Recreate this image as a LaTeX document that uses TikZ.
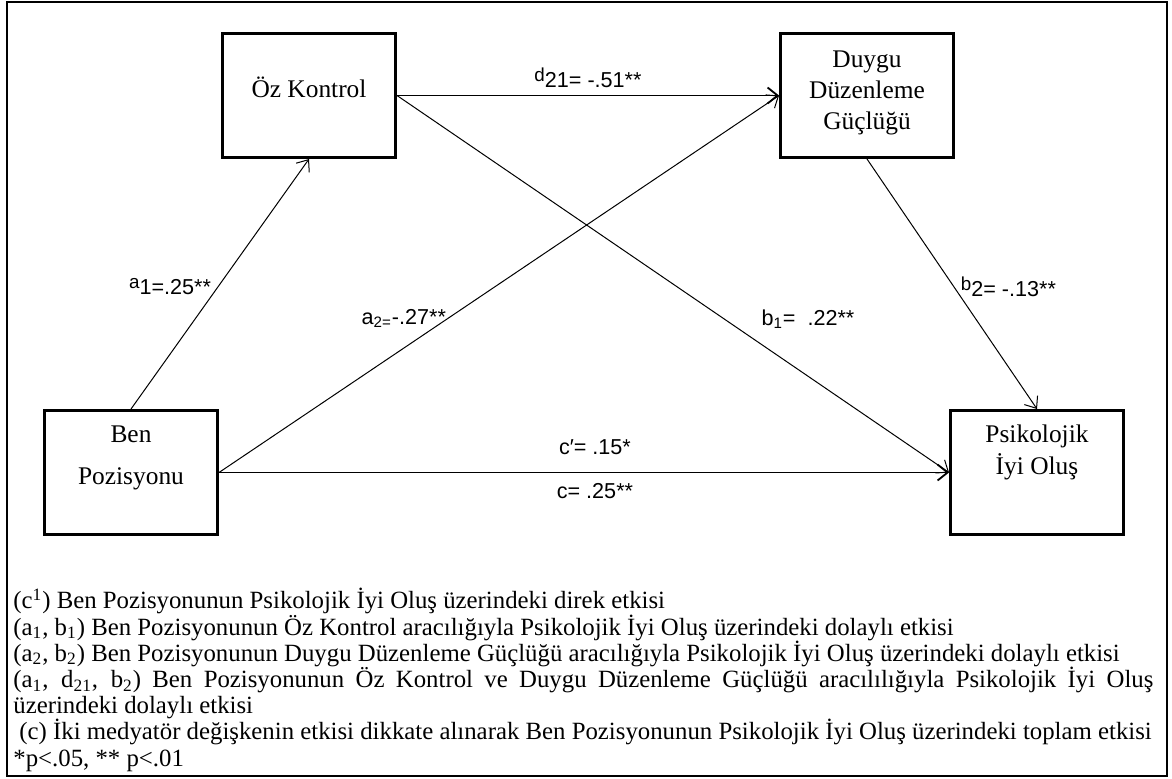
\documentclass[tikz,border=0pt]{standalone}
\usepackage{fontspec}
\setmainfont{Liberation Serif}
\setsansfont{Liberation Sans}
\usetikzlibrary{arrows.meta,positioning}
\setlength{\parindent}{0pt}
\newcommand{\upvar}[1]{\raisebox{3.2pt}{\fontsize{9.4}{9.4}\selectfont #1}}
\tikzstyle{block} = [rectangle, draw, line width=1.3pt, minimum width=86.7pt, minimum height=62.2pt, inner sep=0pt, align=center, font=\fontsize{12.7}{15.5}\selectfont]
\tikzstyle{coef} = [font=\sffamily\fontsize{10.8}{12}\selectfont]
\tikzstyle{link} = [->, line width=0.5pt]
\tikzstyle{mainlink} = [->, line width=0.9pt]

\begin{document}
\begin{tikzpicture}[x=0.5pt, y=-0.5pt, >={Straight Barb[length=5pt,width=8pt]}]
    \useasboundingbox (0,0) rectangle (1172,778);
    \draw [line width=1pt] (6.5,2) rectangle (1167,776);

    \node [block, text depth=17.3pt] (ben) at (131,472.5) {Ben\\[5.5pt]Pozisyonu};
    \node [block, text depth=8pt, above right=125pt and 1pt of ben] (oz) {Öz Kontrol};
    \node [block, text depth=5.3pt, right=191pt of oz] (duygu) {Duygu\\Düzenleme\\Güçlüğü};
    \node [block, text depth=22.6pt, right=365pt of ben] (psik) {Psikolojik\\[0.5pt]İyi Oluş};

    \draw [link] (ben.north) -- node [coef, pos=0.49, left] {\upvar{a}1=.25**} (oz.south);
    \draw [link] (ben.east) -- node [coef, pos=0.33, above=6.5pt] {a\textsubscript{2=}-.27**} (duygu.west);
    \draw [mainlink] (oz.east) -- node [coef, above] {\upvar{d}21= -.51**} (duygu.west);
    \draw [link] (oz.east) -- node [coef, pos=0.593, right=15pt] {b\textsubscript{1}=\ \ .22**} (psik.west);
    \draw [link] (duygu.south) -- node [coef, pos=0.51, right] {\upvar{b}2= -.13**} (psik.north);
    \draw [mainlink] (ben.east) -- node [coef, pos=0.515, above=5pt] {c′= .15*}
        node [coef, pos=0.515, below=1.5pt] {c= .25**} (psik.west);

    % notes under the model
    \node [anchor=north west, inner sep=0pt, text width=570pt, align=justify, font=\fontsize{12.4}{13.1}\selectfont] (notes) at (13,588) {%
        (c\textsuperscript{1}) Ben Pozisyonunun Psikolojik İyi Oluş üzerindeki direk etkisi\\
        (a\textsubscript{1}, b\textsubscript{1}) Ben Pozisyonunun Öz Kontrol aracılığıyla Psikolojik İyi Oluş üzerindeki dolaylı etkisi\\
        (a\textsubscript{2}, b\textsubscript{2}) Ben Pozisyonunun Duygu Düzenleme Güçlüğü aracılığıyla Psikolojik İyi Oluş üzerindeki dolaylı etkisi\\
        (a\textsubscript{1}, d\textsubscript{21}, b\textsubscript{2}) Ben Pozisyonunun Öz Kontrol ve Duygu Düzenleme Güçlüğü aracılılığıyla Psikolojik İyi Oluş\linebreak
        üzerindeki dolaylı etkisi\\
        \mbox{\hspace*{3pt}(c) İki medyatör değişkenin etkisi dikkate alınarak Ben Pozisyonunun Psikolojik İyi Oluş üzerindeki toplam etkisi}\\
        {*}p<.05, ** p<.01};
\end{tikzpicture}
\end{document}
